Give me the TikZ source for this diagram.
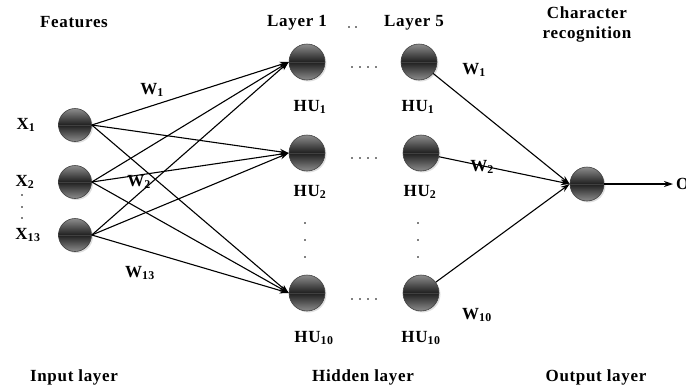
\documentclass[tikz,border=0pt]{standalone}
\usepackage{fontspec}
\setmainfont{Liberation Serif}
\newfontfamily\lblfont{Liberation Serif}[LetterSpace=4]
\usetikzlibrary{arrows.meta,shadows}

\begin{document}
\begin{tikzpicture}[x=1pt,y=-1pt,
  neuron/.style={circle, minimum size=34pt, inner sep=0pt, draw=black!75,
    line width=0.6pt, top color=black!45, bottom color=black!45,
    middle color=black!88,
    drop shadow={opacity=0.25, shadow xshift=1.5pt, shadow yshift=-1.5pt},
    path picture={\draw[line width=0.9pt]
      (path picture bounding box.west) -- (path picture bounding box.east);}},
  lbl/.style={font=\lblfont\bfseries\fontsize{17}{20}\selectfont, inner sep=0pt},
  conn/.style={line width=1.1pt, -{Stealth[length=9pt,width=6pt]}},
  dot/.style={fill=black}
]
\useasboundingbox (0,0) rectangle (686,389);

% input layer
\node[neuron, minimum size=33pt] (x1)  at (75,125) {};
\node[neuron, minimum size=33pt] (x2)  at (75,182) {};
\node[neuron, minimum size=33pt] (x13) at (75,235) {};

% hidden layers 1 and 5
\node[neuron, minimum size=36pt] (h11)  at (307,62)  {};
\node[neuron, minimum size=36pt] (h12)  at (307,153) {};
\node[neuron, minimum size=36pt] (h110) at (307,293) {};
\node[neuron, minimum size=36pt] (h51)  at (419,62)  {};
\node[neuron, minimum size=36pt] (h52)  at (421,153) {};
\node[neuron, minimum size=36pt] (h510) at (421,293) {};

% output unit
\node[neuron, minimum size=34pt] (out) at (587,184) {};
\coordinate (oend) at (673,184);

% connections input -> layer 1
\foreach \i in {x1,x2,x13}
  \foreach \j in {h11,h12,h110}
    \draw[conn] (\i.east) -- (\j.west);

% connections layer 5 -> output
\foreach \j in {h51,h52,h510}
  \draw[conn] (\j) -- (out.west);
\draw[conn] (out.east) -- (oend);
\node[lbl, anchor=west] (o) at (676,184) {O};

% ellipsis dots
\foreach \y in {67,158,299}
  \foreach \x in {352,360,368,376}
    \fill[dot] (\x,\y) circle (0.9);
\foreach \x in {349,356} \fill[dot] (\x,27) circle (0.9);
\foreach \y in {223,240,257} {
  \fill[dot] (305,\y) circle (0.9);
  \fill[dot] (418,\y) circle (0.9);
}
\foreach \y in {195,207,218} \fill[dot] (22,\y) circle (0.9);

% labels
\node[lbl] (tfeat) at (74,22) {Features};
\node[lbl] (tl1) at (297,23) {Layer 1};
\node[lbl] (tl5) at (414,23) {Layer 5};
\node[lbl, align=center] (tchar) at (587,24) {Character\\recognition};

\node[lbl] (tx1)  at (26,125) {X\textsubscript{1}};
\node[lbl] (tx2)  at (25,182) {X\textsubscript{2}};
\node[lbl] (tx13) at (28,235) {X\textsubscript{13}};

\node[lbl] (tw1)  at (152,90)  {W\textsubscript{1}};
\node[lbl] (tw2)  at (139,182) {W\textsubscript{2}};
\node[lbl] (tw13) at (140,273) {W\textsubscript{13}};

\node[lbl] (thu11)  at (310,107) {HU\textsubscript{1}};
\node[lbl] (thu51)  at (418,107) {HU\textsubscript{1}};
\node[lbl] (thu12)  at (310,192) {HU\textsubscript{2}};
\node[lbl] (thu52)  at (420,192) {HU\textsubscript{2}};
\node[lbl] (thu110) at (314,338) {HU\textsubscript{10}};
\node[lbl] (thu510) at (421,338) {HU\textsubscript{10}};

\node[lbl] (tv1)  at (474,70)  {W\textsubscript{1}};
\node[lbl] (tv2)  at (482,167) {W\textsubscript{2}};
\node[lbl] (tv10) at (477,315) {W\textsubscript{10}};

\node[lbl] (tin)  at (74,377)  {Input layer};
\node[lbl] (thid) at (363,377) {Hidden layer};
\node[lbl] (tout) at (596,377) {Output layer};
\end{tikzpicture}
\end{document}
